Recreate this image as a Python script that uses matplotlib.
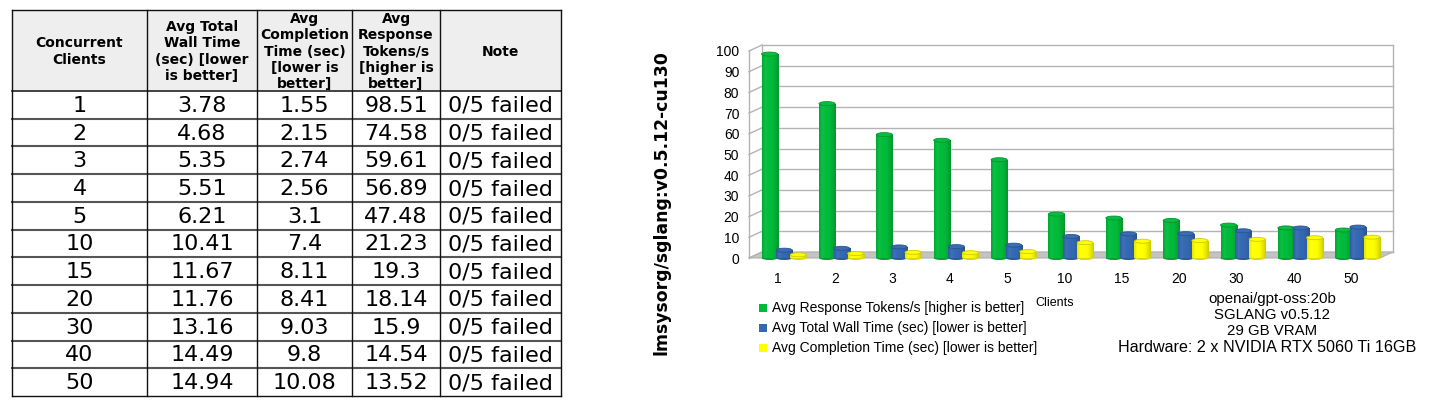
import numpy as np
import matplotlib
matplotlib.use("Agg")
import matplotlib.pyplot as plt
from matplotlib.patches import Rectangle, Ellipse, Polygon
from matplotlib.colors import LinearSegmentedColormap, to_rgb

# data
clients = [1, 2, 3, 4, 5, 10, 15, 20, 30, 40, 50]
wall_time = [3.78, 4.68, 5.35, 5.51, 6.21, 10.41, 11.67, 11.76, 13.16, 14.49, 14.94]
completion_time = [1.55, 2.15, 2.74, 2.56, 3.1, 7.4, 8.11, 8.41, 9.03, 9.8, 10.08]
tokens_per_s = [98.51, 74.58, 59.61, 56.89, 47.48, 21.23, 19.3, 18.14, 15.9, 14.54, 13.52]
notes = ["0/5 failed"] * len(clients)

headers = ["Concurrent\nClients",
           "Avg Total\nWall Time\n(sec) [lower\nis better]",
           "Avg\nCompletion\nTime (sec)\n[lower is\nbetter]",
           "Avg\nResponse\nTokens/s\n[higher is\nbetter]",
           "Note"]

series_names = ["Avg Response Tokens/s [higher is better]",
                "Avg Total Wall Time (sec) [lower is better]",
                "Avg Completion Time (sec) [lower is better]"]
series_values = [tokens_per_s, wall_time, completion_time]
series_colors = ["#00bb3a", "#3468b2", "#ffff00"]

image_tag = "lmsysorg/sglang:v0.5.12-cu130"
info_lines = ["openai/gpt-oss:20b", "SGLANG v0.5.12", "29 GB VRAM"]
hardware = "Hardware: 2 x NVIDIA RTX 5060 Ti 16GB"

W, H = 1430, 413
fig = plt.figure(figsize=(W / 100, H / 100), dpi=100)

# background axes in pixel coords for table and free text
bg = fig.add_axes([0, 0, 1, 1])
bg.set_xlim(0, W)
bg.set_ylim(H, 0)
bg.axis("off")

# ---- table ----
col_edges = [12, 147, 257, 352, 440, 561]
top, head_bot, bot = 10, 91, 396
row_h = (bot - head_bot) / len(clients)

bg.add_patch(Rectangle((col_edges[0], top), col_edges[-1] - col_edges[0], head_bot - top,
                       facecolor="#eeeeee", edgecolor="none"))
for i, htxt in enumerate(headers):
    cx = (col_edges[i] + col_edges[i + 1]) / 2
    bg.text(cx, (top + head_bot) / 2 + 1, htxt, ha="center", va="center",
            fontsize=10, fontweight="bold", family="DejaVu Sans", linespacing=1.2)

rows = list(zip(clients, wall_time, completion_time, tokens_per_s, notes))
for r, row in enumerate(rows):
    cy = head_bot + (r + 0.5) * row_h
    for i, val in enumerate(row):
        cx = (col_edges[i] + col_edges[i + 1]) / 2
        bg.text(cx, cy + 1, str(val), ha="center", va="center", fontsize=16,
                family="DejaVu Sans")

for r in range(1, len(clients)):
    y = head_bot + r * row_h
    bg.plot([col_edges[0], col_edges[-1]], [y, y], color="#555555", lw=1.5)
bg.plot([col_edges[0], col_edges[-1]], [head_bot, head_bot], color="#222222", lw=1.2)
for x in col_edges:
    bg.plot([x, x], [top, bot], color="#111111", lw=1)
for y in (top, bot):
    bg.plot([col_edges[0], col_edges[-1]], [y, y], color="#111111", lw=1)

# rotated title
bg.text(661, 203, image_tag, rotation=90, ha="center", va="center", fontsize=12.4,
        fontweight="bold", family="DejaVu Sans")

# ---- chart ----
ax_l, ax_r, ax_b, ax_t = 749, 1380, 258, 51
ax = fig.add_axes([ax_l / W, (H - ax_b) / H, (ax_r - ax_l) / W, (ax_b - ax_t) / H])
n = len(clients)
ax.set_xlim(-0.5, n - 0.5)
ax.set_ylim(0, 100)
for s in ax.spines.values():
    s.set_visible(False)
ax.set_facecolor("none")

px_x = n / (ax_r - ax_l)
px_y = 100 / (ax_b - ax_t)
ddx, ddy = 13 * px_x, 6 * px_y
grid_c = "#b3b3b3"

# walls, floor, grid
x0, x1 = -0.5, n - 0.5
ax.add_patch(Polygon([(x0, 0), (x1, 0), (x1 + ddx, ddy), (x0 + ddx, ddy)],
                     closed=True, facecolor="#c3c3c3", edgecolor="#b0b0b0", lw=0.8,
                     clip_on=False, zorder=0.6))
for v in range(0, 101, 10):
    ax.plot([x0 + ddx, x1 + ddx], [v + ddy, v + ddy], color=grid_c, lw=1,
            clip_on=False, zorder=0.5)
    ax.plot([x0, x0 + ddx], [v, v + ddy], color=grid_c, lw=1, clip_on=False, zorder=0.5)
ax.plot([x0, x0], [0, 100], color=grid_c, lw=1, clip_on=False, zorder=0.5)
ax.plot([x0 + ddx, x0 + ddx], [ddy, 100 + ddy], color=grid_c, lw=1, clip_on=False, zorder=0.5)
ax.plot([x1 + ddx, x1 + ddx], [ddy, 100 + ddy], color=grid_c, lw=1, clip_on=False, zorder=0.5)


def shade(c, f):
    c = np.array(to_rgb(c))
    if f < 0:
        return tuple(c * (1 + f))
    return tuple(c + (1 - c) * f)


grad = np.linspace(0, 1, 64).reshape(1, -1)
offsets = [-0.14, 0.115, 0.36]
bw = 0.28
cap_h = 4 * px_y
xs = np.arange(n)
for k, (vals, col) in enumerate(zip(series_values, series_colors)):
    z = 3 + k
    cm = LinearSegmentedColormap.from_list(
        "cyl%d" % k, [shade(col, -0.1), shade(col, 0.06), col, col, shade(col, -0.08), shade(col, -0.2)])
    bars = ax.bar(xs + offsets[k], vals, width=bw, color=col, zorder=z, clip_on=False)
    for b in bars:
        bx, bwid, bh = b.get_x(), b.get_width(), b.get_height()
        ax.add_patch(Ellipse((bx + bwid / 2, 0), bwid, cap_h, facecolor=shade(col, -0.15),
                             edgecolor="none", zorder=z - 0.05, clip_on=False))
        im = ax.imshow(grad, cmap=cm, extent=(bx, bx + bwid, 0, bh), aspect="auto",
                       zorder=z + 0.01, interpolation="bilinear")
        im.set_clip_path(b)
        ax.add_patch(Ellipse((bx + bwid / 2, bh), bwid, cap_h, facecolor=shade(col, 0.03),
                             edgecolor=shade(col, -0.2), lw=0.6, zorder=z + 0.02, clip_on=False))

ax.set_xlim(-0.5, n - 0.5)
ax.set_ylim(0, 100)
ax.set_yticks(range(0, 101, 10))
ax.set_xticks(xs, [str(c) for c in clients])
ax.tick_params(axis="both", length=0, labelsize=10)
ax.tick_params(axis="y", pad=7)
ax.tick_params(axis="x", pad=10)
for lab in ax.get_xticklabels() + ax.get_yticklabels():
    lab.set_family("Liberation Sans")

# axis title
bg.text(1055, 303, "Clients", ha="center", va="center", fontsize=9, family="Liberation Sans")

# legend
for k, (name, col) in enumerate(zip(series_names, series_colors)):
    y = 308 + 20 * k
    bg.add_patch(Rectangle((759, y - 4), 8, 8, facecolor=col, edgecolor="none"))
    bg.text(772, y, name, ha="left", va="center", fontsize=10, family="Liberation Sans")

# info block
for k, line in enumerate(info_lines):
    bg.text(1272, 299 + 16 * k, line, ha="center", va="center", fontsize=10.8,
            family="Liberation Sans")
bg.text(1267, 348, hardware, ha="center", va="center", fontsize=11.6, family="Liberation Sans")

fig.savefig("out.png", dpi=100)
